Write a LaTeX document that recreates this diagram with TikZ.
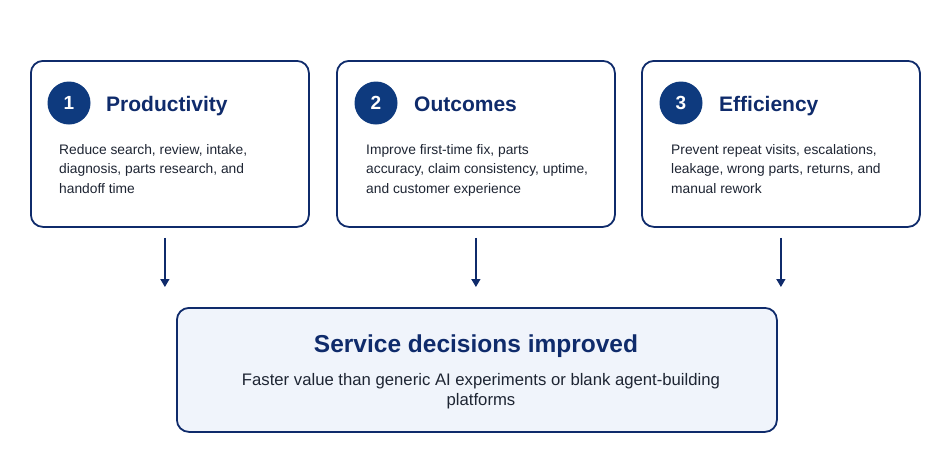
\documentclass[tikz,border=0pt]{standalone}
\usepackage{fontspec}
\setmainfont{Liberation Sans}
\usetikzlibrary{arrows.meta}
\definecolor{navy}{HTML}{0F2B6B}
\definecolor{circ}{HTML}{0E3A7E}
\definecolor{bodyc}{HTML}{1E2533}
\definecolor{pale}{HTML}{F0F4FB}
\begin{document}
\begin{tikzpicture}[x=1pt,y=-1pt,
  card/.style={draw=navy, line width=1.8pt, rounded corners=12pt, fill=white,
    minimum width=278pt, minimum height=166pt, anchor=north west, inner sep=0pt},
  resbox/.style={draw=navy, line width=1.8pt, rounded corners=12pt, fill=pale,
    minimum width=600pt, minimum height=124pt, anchor=north west, inner sep=0pt},
  num/.style={circle, fill=circ, minimum size=43pt, inner sep=0pt, text=white,
    font=\bfseries\fontsize{19}{19}\selectfont},
  ttl/.style={anchor=base west, inner sep=0pt, text=navy,
    font=\bfseries\fontsize{21}{24}\selectfont},
  bodytxt/.style={anchor=north west, inner sep=0pt, align=left, text=bodyc,
    font=\fontsize{13.8}{19.5}\selectfont},
  arr/.style={draw=navy, line width=1.5pt, -{Triangle[width=9pt,length=8pt]}}
]
\useasboundingbox (0,0) rectangle (941,464);
\fill[white] (0,0) rectangle (941,464);

% cards
\node[card] (b1) at (30,60) {};
\node[card] (b2) at (336,60) {};
\node[card] (b3) at (641,60) {};

\node[num] (n1) at (69,103) {1};
\node[num] (n2) at (376,103) {2};
\node[num] (n3) at (681,103) {3};

\node[ttl] (t1) at (106,111) {Productivity};
\node[ttl] (t2) at (414,111) {Outcomes};
\node[ttl] (t3) at (719,111) {Efficiency};

\node[bodytxt] (d1) at (59,144) {Reduce search, review, intake,\\diagnosis, parts research, and\\handoff time};
\node[bodytxt] (d2) at (366,144) {Improve first-time fix, parts\\accuracy, claim consistency, uptime,\\and customer experience};
\node[bodytxt] (d3) at (671,144) {Prevent repeat visits, escalations,\\leakage, wrong parts, returns, and\\manual rework};

% result box
\node[resbox] (res) at (176,307) {};
\node[anchor=base, inner sep=0pt, text=navy, font=\bfseries\fontsize{24.5}{28}\selectfont] (rt) at (476,352) {Service decisions improved};
\node[anchor=north, inner sep=0pt, align=center, text=bodyc, font=\fontsize{16.7}{20}\selectfont] (rs) at (481,373) {Faster value than generic AI experiments or blank agent-building\\platforms};

% arrows
\draw[arr] ([shift={(-5pt,-10pt)}]b1.south) -- ([shift={(-5pt,20pt)}]res.north -| b1.south);
\draw[arr] ([shift={(0pt,-10pt)}]b2.south) -- ([shift={(0pt,20pt)}]res.north -| b2.south);
\draw[arr] ([shift={(0pt,-10pt)}]b3.south) -- ([shift={(0pt,20pt)}]res.north -| b3.south);
\end{tikzpicture}
\end{document}
